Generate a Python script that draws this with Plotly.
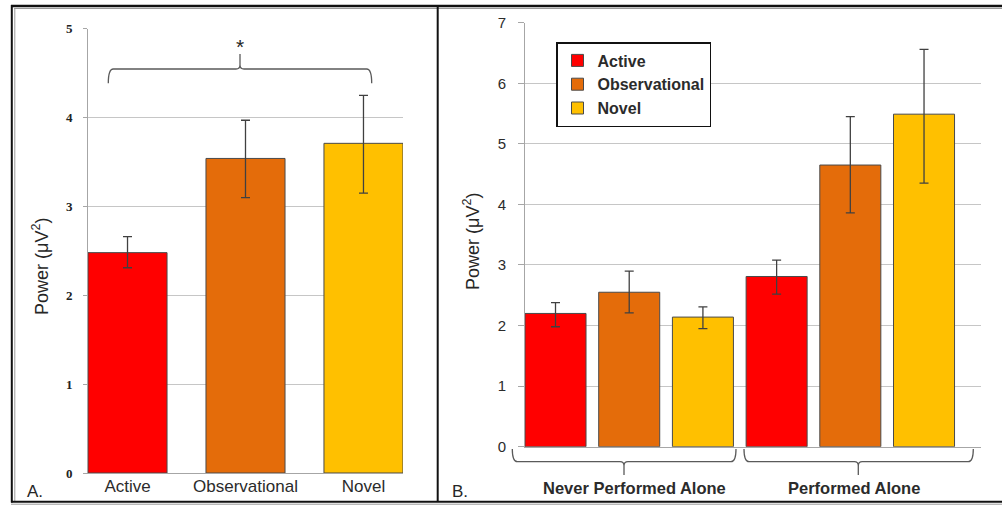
import plotly.graph_objects as go

# ---------------- data ----------------
conditions = ["Active", "Observational", "Novel"]
colors = ["#FF0000", "#E46C0A", "#FFC000"]

# Panel A
a_values = [2.48, 3.54, 3.71]
a_err_plus = [0.18, 0.43, 0.54]
a_err_minus = [0.17, 0.44, 0.56]
a_yticks = [0, 1, 2, 3, 4, 5]

# Panel B
groups = ["Never Performed Alone", "Performed Alone"]
b_values = {
    "Active": [2.20, 2.81],
    "Observational": [2.55, 4.65],
    "Novel": [2.14, 5.49],
}
b_err_plus = {
    "Active": [0.18, 0.27],
    "Observational": [0.35, 0.80],
    "Novel": [0.17, 1.07],
}
b_err_minus = {
    "Active": [0.22, 0.29],
    "Observational": [0.34, 0.79],
    "Novel": [0.19, 1.14],
}
b_yticks = [0, 1, 2, 3, 4, 5, 6, 7]

W, H = 1002, 506


def px(x):
    return x / W


def py(y):
    return 1 - y / H


TXT = "#2b2b2b"
GRID = "#C6C6C6"
AXIS = "#A6A6A6"
ERR = "#404040"
OUTL = "#4a4a4a"

fig = go.Figure()

# Panel A bars
fig.add_trace(go.Bar(
    x=list(range(len(conditions))), y=a_values, width=0.67,
    marker=dict(color=colors, line=dict(color=OUTL, width=1)),
    error_y=dict(type="data", symmetric=False, array=a_err_plus,
                 arrayminus=a_err_minus, color=ERR, thickness=1.3, width=4.5),
    xaxis="x", yaxis="y", showlegend=False, hoverinfo="skip",
))

# Panel B bars
n = len(conditions)
for i, c in enumerate(conditions):
    fig.add_trace(go.Bar(
        name=c,
        x=[g * n + i for g in range(len(groups))], y=b_values[c], width=0.828,
        marker=dict(color=colors[i], line=dict(color=OUTL, width=1)),
        error_y=dict(type="data", symmetric=False, array=b_err_plus[c],
                     arrayminus=b_err_minus[c], color=ERR, thickness=1.3, width=4.5),
        xaxis="x2", yaxis="y2",
    ))

axis_common = dict(zeroline=False, showline=True, automargin=False,
                   linecolor=AXIS, linewidth=1, fixedrange=True)

fig.update_layout(
    width=W, height=H,
    margin=dict(l=0, r=0, t=0, b=0, autoexpand=False),
    paper_bgcolor="white", plot_bgcolor="white",
    font=dict(family="Liberation Sans, Arial, sans-serif", color=TXT),
    barmode="overlay",
    xaxis=dict(domain=[px(88), px(403)], range=[-0.335, 2.335],
               tickvals=list(range(n)), ticktext=conditions, showgrid=False,
               ticks="", tickfont=dict(size=17, color=TXT),
               ticklabelstandoff=-2,
               anchor="y", **axis_common),
    yaxis=dict(domain=[py(473), py(28.7)], range=[0, 5],
               tickvals=a_yticks, ticks="outside", ticklen=4, tickcolor=AXIS,
               showgrid=True, gridcolor=GRID, gridwidth=1,
               tickfont=dict(size=13, color="#222222",
                             family="Liberation Serif, serif", weight="bold"),
               ticklabelstandoff=8,
               anchor="x", **axis_common),
    xaxis2=dict(domain=[px(525), px(981)], range=[-0.414, 5.773], showgrid=False,
                showticklabels=False, ticks="", anchor="y2", **axis_common),
    yaxis2=dict(domain=[py(446.7), py(22.7)], range=[0, 7],
                tickvals=b_yticks, ticks="outside", ticklen=6, tickcolor=AXIS,
                showgrid=True, gridcolor=GRID, gridwidth=1,
                tickfont=dict(size=15, color=TXT),
                ticklabelstandoff=9,
                anchor="x2", **axis_common),
    legend=dict(x=px(556), y=py(42), xanchor="left", yanchor="top",
                bordercolor="#111111", borderwidth=1.5, bgcolor="white",
                font=dict(size=16, color=TXT, weight="bold"), traceorder="normal",
                itemclick=False, itemdoubleclick=False),
    showlegend=True,
)

annotations = []
# y axis titles
for xc, yc in [(40, 267), (471, 242)]:
    annotations.append(dict(
        text="Power (μV<sup>2</sup>)", x=px(xc), y=py(yc), xref="paper", yref="paper",
        xanchor="center", yanchor="middle", textangle=-90, showarrow=False,
        font=dict(size=18, color="#262626")))
# panel letters
for t, xc in [("A.", 35), ("B.", 460)]:
    annotations.append(dict(text=t, x=px(xc), y=py(491), xref="paper", yref="paper",
                            xanchor="center", yanchor="middle", showarrow=False,
                            font=dict(size=17, color="#262626")))
# significance asterisk
annotations.append(dict(text="*", x=px(240), y=py(46), xref="paper", yref="paper",
                        xanchor="center", yanchor="middle", showarrow=False,
                        font=dict(size=21, color="#262626")))
# group labels panel B
for g, xc in zip(groups, [634, 854]):
    annotations.append(dict(text=g, x=px(xc), y=py(488), xref="paper", yref="paper",
                            xanchor="center", yanchor="middle", showarrow=False,
                            font=dict(size=16.5, color=TXT, weight="bold")))
fig.update_layout(annotations=annotations)


def brace(x0, x1, xm, y_end, y_line, y_tip, r=5, rt=4):
    s = 1 if y_tip < y_line else -1  # tip direction (pixel space)
    pts = []
    pts.append(f"M{px(x0)},{py(y_end)}")
    pts.append(f"Q{px(x0)},{py(y_line)} {px(x0 + r)},{py(y_line)}")
    pts.append(f"L{px(xm - rt)},{py(y_line)}")
    pts.append(f"Q{px(xm)},{py(y_line)} {px(xm)},{py(y_line - s * rt)}")
    pts.append(f"L{px(xm)},{py(y_tip)}")
    pts.append(f"M{px(xm)},{py(y_line - s * rt)}")
    pts.append(f"Q{px(xm)},{py(y_line)} {px(xm + rt)},{py(y_line)}")
    pts.append(f"L{px(x1 - r)},{py(y_line)}")
    pts.append(f"Q{px(x1)},{py(y_line)} {px(x1)},{py(y_end)}")
    return " ".join(pts)


shapes = []
BR = dict(color="#5a5a5a", width=1.3)
shapes.append(dict(type="path", xref="paper", yref="paper",
                   path=brace(108.3, 371.7, 240, 83.3, 69, 54), line=BR))
shapes.append(dict(type="path", xref="paper", yref="paper",
                   path=brace(512.3, 736, 624, 449, 461.7, 475), line=BR))
shapes.append(dict(type="path", xref="paper", yref="paper",
                   path=brace(744, 973.3, 858.3, 449, 461.7, 475), line=BR))


# frame lines
def hline(y, x0, x1, color, w):
    return dict(type="line", xref="paper", yref="paper", x0=px(x0), x1=px(x1),
                y0=py(y), y1=py(y), line=dict(color=color, width=w))


def vline(x, y0, y1, color, w):
    return dict(type="line", xref="paper", yref="paper", x0=px(x), x1=px(x),
                y0=py(y0), y1=py(y1), line=dict(color=color, width=w))


shapes += [
    hline(6, 11, 1002, "#111111", 2.5),
    hline(8.5, 14, 1002, "#9a9a9a", 1),
    vline(11.8, 5, 502.5, "#111111", 2),
    vline(14.8, 8, 501, "#9a9a9a", 1),
    hline(501.7, 11, 1002, "#111111", 2),
    hline(504.2, 11, 1002, "#9a9a9a", 1),
    vline(437.7, 6, 502, "#111111", 2),
]
fig.update_layout(shapes=shapes)

fig.write_html("out.html")
